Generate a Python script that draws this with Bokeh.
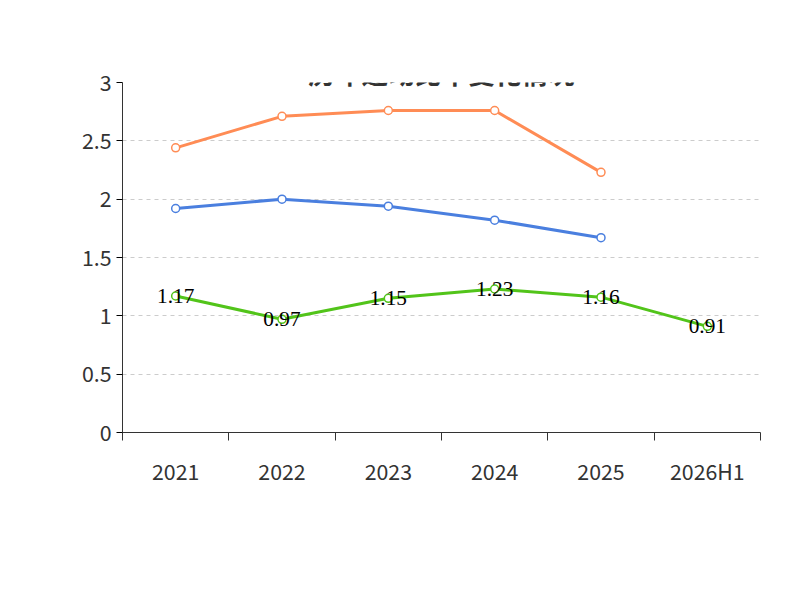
from bokeh.plotting import figure
from bokeh.models import Legend, FixedTicker, Range1d, Label, LabelSet, ColumnDataSource
from bokeh.embed import file_html
from bokeh.resources import INLINE

years = ["2021", "2022", "2023", "2024", "2025", "2026H1"]
quick = [1.17, 0.97, 1.15, 1.23, 1.16, 0.91]
ind_mean = [1.92, 2.00, 1.94, 1.82, 1.67]
ind_median = [2.44, 2.71, 2.76, 2.76, 2.23]

F = "Noto Sans CJK SC"
p = figure(frame_width=638, frame_height=350, output_backend="svg", toolbar_location=None,
           x_range=Range1d(-0.5, 5.5), y_range=Range1d(0, 3),
           min_border_left=122, min_border_right=24, min_border_top=82, min_border_bottom=152)
p.outline_line_color = None
p.xgrid.grid_line_color = None
p.ygrid.grid_line_dash = "4 4"
p.ygrid.grid_line_color = "#cccccc"
p.yaxis.ticker = FixedTicker(ticks=[0, 0.5, 1, 1.5, 2, 2.5, 3])
p.yaxis.major_label_overrides = {0: "0", 0.5: "0.5", 1: "1", 1.5: "1.5", 2: "2", 2.5: "2.5", 3: "3"}
p.xaxis.ticker = FixedTicker(ticks=list(range(6)), minor_ticks=[-0.5, 0.5, 1.5, 2.5, 3.5, 4.5, 5.5])
p.xaxis.major_label_overrides = {i: y for i, y in enumerate(years)}
p.xaxis.major_tick_line_color = None
p.xaxis.minor_tick_in = 0
p.xaxis.minor_tick_out = 8
p.xaxis.minor_tick_line_color = "#333333"
p.xaxis.major_label_standoff = 14
for ax in (p.xaxis, p.yaxis):
    ax.major_label_text_font = F
    ax.major_label_text_font_size = "16pt"
    ax.major_label_text_color = "#333333"
    ax.axis_line_color = "#333333"
p.yaxis.minor_tick_line_color = None
p.yaxis.major_tick_in = 0
p.yaxis.major_tick_out = 6

xs = list(range(6))
r1 = p.line(xs, quick, line_color="#52c41a", line_width=3)
c1 = p.scatter(xs, quick, size=8, fill_color="white", line_color="#52c41a", line_width=1.5)
r2 = p.line(xs[:5], ind_mean, line_color="#4a7fdf", line_width=3)
c2 = p.scatter(xs[:5], ind_mean, size=8, fill_color="white", line_color="#4a7fdf", line_width=1.5)
r3 = p.line(xs[:5], ind_median, line_color="#ff8c55", line_width=3)
c3 = p.scatter(xs[:5], ind_median, size=8, fill_color="white", line_color="#ff8c55", line_width=1.5)

src = ColumnDataSource(dict(x=xs, y=quick, t=[f"{v:.2f}" for v in quick]))
p.add_layout(LabelSet(x="x", y="y", text="t", source=src, text_align="center", text_baseline="middle",
                      text_font=F, text_font_size="16pt", text_color="black"))

leg = Legend(items=[("速动比率", [r1, c1]), ("行业均值", [r2, c2]), ("行业中位数", [r3, c3])],
             orientation="horizontal", location=(0, -118), border_line_color=None,
             background_fill_alpha=0,
             label_text_font=F, label_text_font_size="16pt", label_text_color="#333333",
             glyph_width=45, spacing=20, margin=0)
p.add_layout(leg, "center")

p.add_layout(Label(x=319, y=360, x_units="screen", y_units="screen", text="历年速动比率变化情况",
                   text_align="center", text_baseline="middle", text_font=F, text_font_size="20pt",
                   text_font_style="bold", text_color="#333333"))
p.add_layout(Label(x=270, y=-150, x_units="screen", y_units="screen", text="制图数据来自恒生聚源数据库",
                   text_align="center", text_baseline="middle", text_font=F,
                   text_font_size="11pt", text_color="#c8961e"))

open("out.html", "w").write(file_html(p, INLINE))
